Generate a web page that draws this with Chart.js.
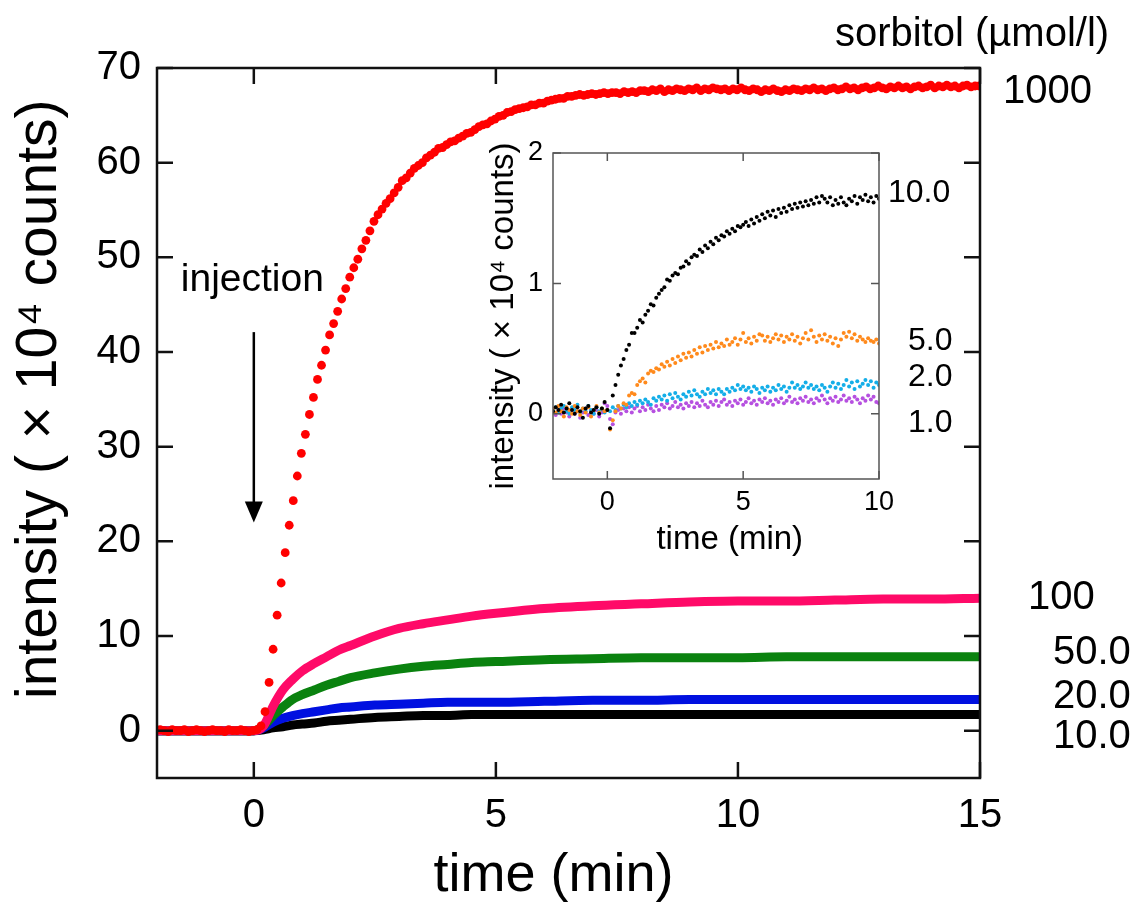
<!DOCTYPE html>
<html>
<head>
<meta charset="utf-8">
<script src="https://cdn.jsdelivr.net/npm/chart.js@4.4.1/dist/chart.umd.min.js"></script>
<style>
  html, body { margin: 0; padding: 0; background: #fff; }
  #wrap { position: relative; width: 1138px; height: 909px; }
  #main { position: absolute; left: 0; top: 0; }
  #inset { position: absolute; left: 470px; top: 110px; }
</style>
</head>
<body>
<div id="wrap">
  <canvas id="main" width="1138" height="909"></canvas>
  <canvas id="inset" width="500" height="460"></canvas>
</div>
<script>
// ---- main panel data (intensity x10^4 counts vs time in min) ----
const X_TICKS = [0, 5, 10, 15];
const Y_TICKS = [0, 10, 20, 30, 40, 50, 60, 70];

// 1000 umol/l, one sample every 5 s starting at -1.935 min
const RED_T0 = -1.935;
const RED_DT = 1 / 12;
const RED_1000 = [
  0.1, 0, -0.1, 0.1, 0, 0, 0.1, -0.1, 0, 0.1, 0, -0.1, 0, 0.1, 0, 0, -0.1, 0.1, 0, 0, 0.1, 0, -0.1, 0, 0.1,
  0.5, 2.0, 5.1, 8.6, 12.2, 15.6, 18.8, 21.7, 24.3, 26.9, 29.3, 31.3, 33.4, 35.2, 37.1, 38.6, 40.2, 41.8,
  43.0, 44.3, 45.6, 46.7, 47.9, 48.9, 49.8, 50.9, 51.8,
  52.8, 53.8, 54.5, 55.1, 55.7, 56.2, 56.8, 57.4, 58.1, 58.4, 58.9, 59.4, 59.7, 60.0, 60.5, 60.8, 61.1, 61.5,
  61.6, 61.9, 62.2, 62.3, 62.6, 62.8, 63.1, 63.2, 63.5, 63.8, 64.0, 64.1, 64.4, 64.6, 64.9, 65.0, 65.3, 65.4,
  65.6, 65.7, 65.8, 65.9, 66.1, 66.1, 66.3, 66.3,
  66.5, 66.6, 66.7, 66.8, 66.8, 67.0, 67.0, 67.1, 67.2, 67.1, 67.2, 67.3, 67.2, 67.3, 67.4, 67.3,
  67.4, 67.4, 67.3, 67.5, 67.4, 67.5, 67.4, 67.6,
  67.6, 67.5, 67.7, 67.6, 67.8, 67.5, 67.7, 67.6, 67.8, 67.7,
  67.6, 67.8, 67.7, 67.9, 67.6, 67.8, 67.7, 67.9, 67.8, 67.7,
  67.8, 67.6, 67.8, 67.7, 67.9, 67.7, 67.6, 67.8, 67.7, 67.5,
  67.7, 67.6, 67.8, 67.6, 67.5, 67.7, 67.6, 67.8, 67.7, 67.6,
  67.8, 67.7, 67.9, 67.7, 67.8, 67.6, 67.8, 67.9, 67.7, 67.8,
  68.0, 67.8, 67.9, 67.7, 67.9, 68.0, 67.8, 67.9, 68.1, 67.9,
  67.8, 68.0, 67.9, 68.1, 67.9, 68.0, 67.8, 68.0, 68.1, 67.9,
  68.0, 68.2, 67.9, 68.1, 68.0, 68.2, 68.0, 68.1, 67.9, 68.1,
  68.2, 68.0, 68.1, 68.1
];

// lower concentrations, read as smooth bands
const BAND_TIME = [-2, -1, 0, 0.2, 0.4, 0.6, 0.8, 1.0, 1.25, 1.5, 1.75, 2, 2.5, 3, 3.5, 4, 4.5, 5, 6, 7, 8, 9, 10, 11, 12, 13, 14, 15];
const PINK_100 = [0, 0, 0, 0.5, 2.6, 4.3, 5.4, 6.3, 7.1, 7.8, 8.5, 9.0, 10.0, 10.8, 11.3, 11.7, 12.1, 12.4, 12.9, 13.2, 13.4, 13.6, 13.7, 13.7, 13.8, 13.9, 13.9, 14.0];
const GREEN_50 = [0, 0, 0, 0.5, 1.6, 2.5, 3.3, 3.8, 4.3, 4.8, 5.2, 5.6, 6.1, 6.5, 6.8, 7.0, 7.2, 7.3, 7.5, 7.6, 7.7, 7.7, 7.7, 7.8, 7.8, 7.8, 7.8, 7.8];
const BLUE_20 = [0, 0, 0, 0.3, 0.9, 1.3, 1.6, 1.8, 2.0, 2.2, 2.4, 2.5, 2.7, 2.8, 2.9, 3.0, 3.0, 3.0, 3.1, 3.2, 3.2, 3.3, 3.3, 3.3, 3.3, 3.3, 3.3, 3.3];
const BLACK_10 = [0, 0, 0, 0.1, 0.3, 0.4, 0.6, 0.7, 0.8, 1.0, 1.1, 1.2, 1.4, 1.5, 1.6, 1.6, 1.7, 1.7, 1.7, 1.7, 1.7, 1.7, 1.7, 1.7, 1.7, 1.7, 1.7, 1.7];

// ---- inset data, one sample every 0.1 min from -2 min ----
const IN_X_TICKS = [0, 5, 10];
const IN_Y_TICKS = [0, 1, 2];
const IN_T0 = -2;
const IN_DT = 0.1;
const IN_BLACK_10 = [
  0.02, 0.05, 0.03, 0.07, 0.01, 0.04, 0.08, 0.03, 0.00, 0.05,
  0.02, -0.03, 0.04, 0.06, 0.01, 0.03, 0.05, 0.00, 0.04, 0.09,
  0.03, -0.11, 0.14, 0.22, 0.30, 0.37, 0.42, 0.49, 0.53, 0.62,
  0.62, 0.66, 0.72, 0.70, 0.76, 0.79, 0.84, 0.83, 0.89, 0.92,
  0.95, 0.97, 1.03, 1.02, 1.06, 1.08, 1.07, 1.12, 1.13, 1.17,
  1.15, 1.20, 1.22, 1.21, 1.26, 1.24, 1.29, 1.27, 1.32, 1.30,
  1.35, 1.33, 1.37, 1.36, 1.40, 1.38, 1.42, 1.40, 1.44, 1.43,
  1.45, 1.47, 1.44, 1.49, 1.46, 1.51, 1.48, 1.53, 1.50, 1.55,
  1.52, 1.56, 1.51, 1.57, 1.54, 1.58, 1.55, 1.60, 1.57, 1.61,
  1.58, 1.62, 1.59, 1.63, 1.60, 1.64, 1.61, 1.66, 1.62, 1.67,
  1.65, 1.62, 1.66, 1.60, 1.64, 1.61, 1.66, 1.62, 1.60, 1.65,
  1.63, 1.67, 1.61, 1.66, 1.64, 1.68, 1.63, 1.66, 1.62, 1.67,
  1.65
];
const IN_ORANGE_5 = [
  0.04, 0.01, 0.06, 0.02, -0.02, 0.05, 0.03, 0.00, 0.06, 0.02,
  -0.01, 0.04, 0.01, 0.05, -0.02, 0.03, 0.06, 0.01, 0.04, 0.02,
  0.03, -0.12, -0.05, 0.02, 0.06, 0.04, 0.08, 0.07, 0.14, 0.16,
  0.15, 0.22, 0.25, 0.27, 0.24, 0.31, 0.33, 0.32, 0.35, 0.34,
  0.38, 0.36, 0.40, 0.37, 0.42, 0.39, 0.44, 0.41, 0.46, 0.43,
  0.47, 0.44, 0.49, 0.46, 0.51, 0.47, 0.52, 0.49, 0.53, 0.50,
  0.55, 0.51, 0.54, 0.52, 0.57, 0.53, 0.55, 0.58, 0.53, 0.57,
  0.62, 0.55, 0.58, 0.54, 0.59, 0.56, 0.61, 0.60, 0.56, 0.59,
  0.55, 0.58, 0.61, 0.57, 0.60, 0.55, 0.59, 0.57, 0.61, 0.56,
  0.59, 0.54, 0.58, 0.62, 0.57, 0.64, 0.59, 0.55, 0.60, 0.57,
  0.61, 0.56, 0.59, 0.54, 0.58, 0.52, 0.57, 0.62, 0.59, 0.63,
  0.58, 0.61, 0.56, 0.59, 0.57, 0.55, 0.58, 0.56, 0.55, 0.57,
  0.54
];
const IN_CYAN_2 = [
  0.03, 0.05, 0.01, 0.04, 0.06, 0.02, 0.00, 0.05, 0.03, 0.07,
  0.01, 0.04, 0.02, 0.06, 0.03, 0.00, 0.05, 0.02, 0.04, 0.01,
  0.03, 0.02, 0.05, 0.03, 0.06, 0.04, 0.07, 0.05, 0.08, 0.06,
  0.09, 0.07, 0.10, 0.08, 0.11, 0.09, 0.07, 0.12, 0.10, 0.13,
  0.11, 0.14, 0.10, 0.15, 0.12, 0.16, 0.13, 0.11, 0.15, 0.13,
  0.17, 0.14, 0.18, 0.15, 0.13, 0.17, 0.15, 0.19, 0.16, 0.18,
  0.15, 0.19, 0.17, 0.15, 0.19, 0.17, 0.20, 0.18, 0.22, 0.19,
  0.21, 0.18, 0.20, 0.17, 0.21, 0.19, 0.16, 0.20, 0.18, 0.21,
  0.17, 0.20, 0.18, 0.22, 0.19, 0.21, 0.17, 0.20, 0.24, 0.20,
  0.22, 0.19, 0.21, 0.24, 0.20, 0.22, 0.19, 0.21, 0.18, 0.22,
  0.20, 0.17, 0.21, 0.24, 0.20, 0.23, 0.19, 0.22, 0.26, 0.21,
  0.24, 0.19, 0.25, 0.21, 0.23, 0.26, 0.22, 0.25, 0.20, 0.24,
  0.22
];
const IN_PURPLE_1 = [
  0.02, -0.01, 0.03, 0.00, 0.04, 0.01, -0.02, 0.03, 0.00, 0.02,
  -0.03, 0.01, 0.04, -0.01, 0.02, 0.00, 0.03, -0.02, 0.01, 0.08,
  0.06, -0.04, -0.08, 0.01, 0.03, 0.00, 0.04, 0.02, 0.05, 0.01,
  0.04, 0.06, 0.02, 0.05, 0.03, 0.07, 0.04, 0.02, 0.06, 0.03,
  0.07, 0.05, 0.08, 0.04, 0.06, 0.09, 0.05, 0.07, 0.04, 0.08,
  0.06, 0.09, 0.05, 0.08, 0.06, 0.10, 0.07, 0.05, 0.09, 0.07,
  0.10, 0.06, 0.09, 0.11, 0.07, 0.09, 0.06, 0.10, 0.08, 0.11,
  0.07, 0.09, 0.12, 0.08, 0.10, 0.07, 0.11, 0.09, 0.12, 0.08,
  0.10, 0.07, 0.11, 0.09, 0.12, 0.08, 0.10, 0.13, 0.09, 0.11,
  0.08, 0.12, 0.10, 0.13, 0.09, 0.11, 0.08, 0.12, 0.10, 0.14,
  0.11, 0.08, 0.12, 0.10, 0.13, 0.09, 0.11, 0.14, 0.10, 0.12,
  0.09, 0.13, 0.11, 0.08, 0.12, 0.10, 0.14, 0.11, 0.13, 0.09,
  0.08
];

const FONT = '"Liberation Sans", Arial, Helvetica, sans-serif';
Chart.defaults.font.family = FONT;
Chart.defaults.color = '#000';

const pairs = (xs, ys) => ys.map((v, i) => ({ x: xs[i], y: v }));
const sampled = (t0, dt, ys) => ys.map((v, i) => ({ x: t0 + i * dt, y: v }));

// frame with inward ticks on all four sides, plus text notes
function framePlugin(cfg) {
  return {
    id: 'frame_' + cfg.name,
    afterDatasetsDraw(chart) {
      const { ctx, chartArea: a, scales: { x, y } } = chart;
      ctx.save();
      ctx.strokeStyle = cfg.color;
      ctx.lineWidth = cfg.width;
      ctx.strokeRect(a.left, a.top, a.right - a.left, a.bottom - a.top);
      ctx.beginPath();
      x.ticks.forEach(t => {
        const px = x.getPixelForValue(t.value);
        ctx.moveTo(px, a.bottom); ctx.lineTo(px, a.bottom - cfg.tick);
        ctx.moveTo(px, a.top); ctx.lineTo(px, a.top + cfg.tick);
      });
      y.ticks.forEach(t => {
        const py = y.getPixelForValue(t.value);
        ctx.moveTo(a.left, py); ctx.lineTo(a.left + cfg.tick, py);
        ctx.moveTo(a.right, py); ctx.lineTo(a.right - cfg.tick, py);
      });
      ctx.stroke();
      ctx.fillStyle = '#000';
      ctx.textBaseline = 'middle';
      cfg.notes.forEach(n => {
        ctx.font = n.size + 'px ' + FONT;
        ctx.textAlign = n.align || 'left';
        ctx.fillText(n.text, a.right + n.dx, y.getPixelForValue(n.y));
      });
      if (cfg.extra) cfg.extra(chart);
      ctx.restore();
    }
  };
}

// injection arrow at t = 0
function drawInjection(chart) {
  const { ctx, scales: { x, y } } = chart;
  const px = x.getPixelForValue(0);
  ctx.font = '39px ' + FONT;
  ctx.textAlign = 'left';
  ctx.fillText('injection', px - 73, y.getPixelForValue(47.6));
  const top = y.getPixelForValue(42.1);
  const tip = y.getPixelForValue(22.0);
  ctx.strokeStyle = '#000';
  ctx.lineWidth = 2.5;
  ctx.beginPath();
  ctx.moveTo(px, top); ctx.lineTo(px, tip - 18);
  ctx.stroke();
  ctx.beginPath();
  ctx.moveTo(px - 9, tip - 21); ctx.lineTo(px + 9, tip - 21); ctx.lineTo(px, tip);
  ctx.closePath();
  ctx.fill();
}

const band = (label, ys, color) => ({
  label, data: pairs(BAND_TIME, ys), showLine: true, borderColor: color,
  borderWidth: 9, pointRadius: 0, cubicInterpolationMode: 'monotone'
});

new Chart(document.getElementById('main'), {
  type: 'scatter',
  data: {
    datasets: [
      { label: '1000', data: sampled(RED_T0, RED_DT, RED_1000), showLine: false,
        pointRadius: 4.4, pointBorderWidth: 0, pointBackgroundColor: '#ff0000', borderColor: '#ff0000' },
      band('100', PINK_100, '#ff0a68'),
      band('50.0', GREEN_50, '#0a820f'),
      band('20.0', BLUE_20, '#0010e0'),
      band('10.0', BLACK_10, '#000000')
    ]
  },
  options: {
    responsive: false,
    animation: false,
    layout: { padding: { left: 0, top: 68, right: 158, bottom: 0 } },
    plugins: { legend: { display: false }, tooltip: { enabled: false } },
    scales: {
      x: {
        type: 'linear', min: -2, max: 15,
        afterBuildTicks: s => { s.ticks = X_TICKS.map(v => ({ value: v })); },
        afterFit: s => { s.height = 131; },
        grid: { display: false, drawTicks: false },
        border: { display: false },
        ticks: { font: { size: 40 }, color: '#000', padding: 14, maxRotation: 0, autoSkip: false },
        title: { display: true, text: 'time (min)  ', font: { size: 54 }, color: '#000', padding: { top: 0, bottom: 0 } }
      },
      y: {
        type: 'linear', min: -5, max: 70,
        afterBuildTicks: s => { s.ticks = Y_TICKS.map(v => ({ value: v })); },
        afterFit: s => { s.width = 157; },
        grid: { display: false, drawTicks: false },
        border: { display: false },
        ticks: { font: { size: 40 }, color: '#000', padding: 16, autoSkip: false },
        title: { display: true, text: '   intensity ( \u00d7 10\u2074 counts)', font: { size: 57 }, color: '#000', padding: { top: 6, bottom: 0 } }
      }
    }
  },
  plugins: [framePlugin({
    name: 'main', color: '#111', width: 2.5, tick: 16,
    notes: [
      { text: 'sorbitol (\u00b5mol/l)', dx: -8, y: 73.5, size: 40, align: 'center' },
      { text: '1000', dx: 23, y: 67.5, size: 40 },
      { text: '100', dx: 48, y: 14.0, size: 40 },
      { text: '50.0', dx: 73, y: 8.2, size: 40 },
      { text: '20.0', dx: 73, y: 3.6, size: 40 },
      { text: '10.0', dx: 73, y: -0.7, size: 40 }
    ],
    extra: drawInjection
  })]
});

const dots = (label, ys, color) => ({
  label, data: sampled(IN_T0, IN_DT, ys), showLine: false,
  pointRadius: 2, pointBorderWidth: 0, pointBackgroundColor: color, borderColor: color
});

new Chart(document.getElementById('inset'), {
  type: 'scatter',
  data: {
    datasets: [
      dots('10.0', IN_BLACK_10, '#000000'),
      dots('5.0', IN_ORANGE_5, '#ff8a1c'),
      dots('2.0', IN_CYAN_2, '#14aee8'),
      dots('1.0', IN_PURPLE_1, '#b650e0')
    ]
  },
  options: {
    responsive: false,
    animation: false,
    layout: { padding: { left: 0, top: 43, right: 91, bottom: 0 } },
    plugins: { legend: { display: false }, tooltip: { enabled: false } },
    scales: {
      x: {
        type: 'linear', min: -2, max: 10,
        afterBuildTicks: s => { s.ticks = IN_X_TICKS.map(v => ({ value: v })); },
        afterFit: s => { s.height = 91; },
        grid: { display: false, drawTicks: false },
        border: { display: false },
        ticks: { font: { size: 27 }, color: '#000', padding: 7, maxRotation: 0, autoSkip: false },
        title: { display: true, text: '   time (min)', font: { size: 33 }, color: '#000', padding: { top: 0, bottom: 10 } }
      },
      y: {
        type: 'linear', min: -0.5, max: 2,
        afterBuildTicks: s => { s.ticks = IN_Y_TICKS.map(v => ({ value: v })); },
        afterFit: s => { s.width = 83; },
        grid: { display: false, drawTicks: false },
        border: { display: false },
        ticks: { font: { size: 27 }, color: '#000', padding: 10, autoSkip: false },
        title: { display: true, text: 'intensity ( \u00d7 10\u2074 counts)', font: { size: 33 }, color: '#000', padding: { top: 14, bottom: 0 } }
      }
    }
  },
  plugins: [framePlugin({
    name: 'inset', color: '#555', width: 1.5, tick: 8,
    notes: [
      { text: '10.0', dx: 9, y: 1.69, size: 32 },
      { text: '5.0', dx: 29, y: 0.56, size: 32 },
      { text: '2.0', dx: 29, y: 0.28, size: 32 },
      { text: '1.0', dx: 29, y: -0.07, size: 32 }
    ]
  })]
});
</script>
</body>
</html>
